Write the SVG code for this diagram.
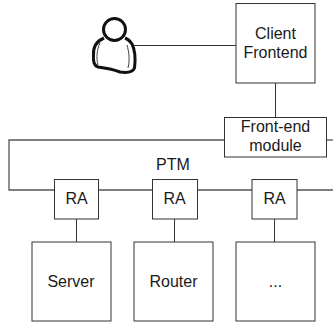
<svg xmlns="http://www.w3.org/2000/svg" width="333" height="323" viewBox="0 0 333 323">
<style>
.box{fill:#fff;stroke:#333;stroke-width:1}
.wire{fill:none;stroke:#333;stroke-width:1}
.bus{fill:none;stroke:#555;stroke-width:1.3}
text{font-family:"Liberation Sans",Arial,sans-serif;font-size:16px;fill:#1a1a1a;text-anchor:middle}
</style>
<rect width="333" height="323" fill="#fff"/>
<g id="connectors">
<path class="wire" d="M133 45.500H236"/>
<path class="wire" d="M275.500 83V117"/>
<path class="bus" d="M225 140H9V190H333"/>
<path class="bus" d="M327 140H333"/>
<path class="wire" d="M76.500 219V242M174.500 219V242M274.500 219V242"/>
</g>
<g id="user">
<path d="M104 38C97 41 93 47 93.500 55C93 61 94 66 98 67C106 68 112 69 120 72C127 73 133 72 134.500 68C135.500 60 135 50 132 44C130 41 128 39 125 38" fill="#fff" stroke="#111" stroke-width="3" stroke-linejoin="round"/>
<circle cx="114.500" cy="29.500" r="11" fill="#fff" stroke="#111" stroke-width="3"/>
<path d="M100 43C97 49 96 58 98 65M127 45C129 52 130 60 128 68" fill="none" stroke="#444" stroke-width="1"/>
</g>
<g id="client-frontend">
<rect class="box" x="236" y="3.500" width="79" height="79.500"/>
<text x="275.500" y="39">Client</text>
<text x="275.500" y="58">Frontend</text>
</g>
<g id="frontend-module">
<rect class="box" x="224.500" y="117.500" width="102" height="39.500"/>
<text x="275.500" y="132">Front-end</text>
<text x="275.500" y="151">module</text>
</g>
<g id="ptm"><text x="173" y="170">PTM</text></g>
<g id="ra1"><rect class="box" x="54.500" y="179.500" width="44" height="39.500"/><text x="76.500" y="204">RA</text></g>
<g id="ra2"><rect class="box" x="152.500" y="179.500" width="45" height="39.500"/><text x="174.500" y="204">RA</text></g>
<g id="ra3"><rect class="box" x="252" y="179.500" width="45" height="39.500"/><text x="274.500" y="204">RA</text></g>
<g id="server"><rect class="box" x="32" y="242" width="79" height="79"/><text x="71" y="287">Server</text></g>
<g id="router"><rect class="box" x="134" y="242" width="79" height="79"/><text x="173.500" y="287">Router</text></g>
<g id="more"><rect class="box" x="236" y="242" width="79" height="79"/><text x="275.500" y="287">...</text></g>
</svg>
